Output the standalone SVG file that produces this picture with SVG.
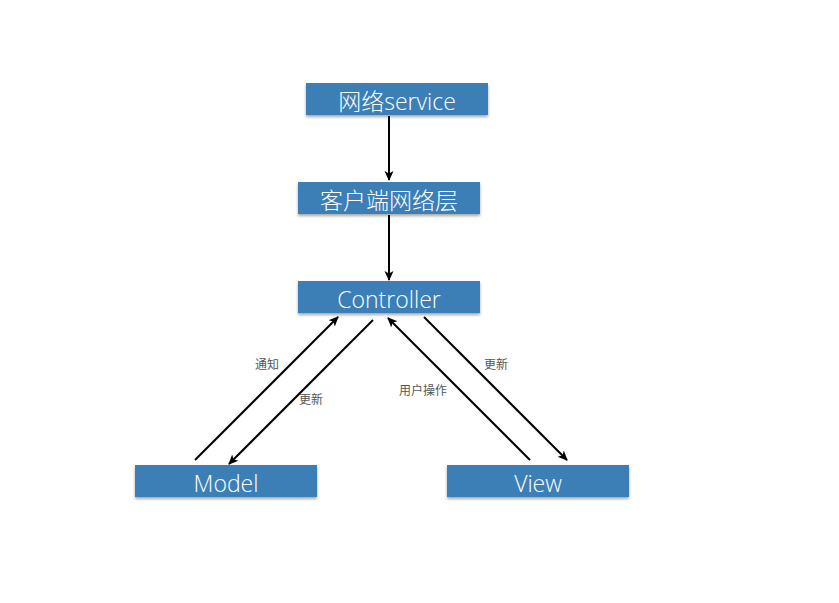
<svg xmlns="http://www.w3.org/2000/svg" width="839" height="603" viewBox="0 0 839 603">
<defs>
<filter id="sh" x="-10%" y="-20%" width="120%" height="160%">
<feDropShadow dx="0" dy="2" stdDeviation="1.5" flood-color="#000" flood-opacity="0.35"/>
</filter>
<marker id="ah" markerWidth="10" markerHeight="10" refX="9" refY="5" orient="auto" markerUnits="userSpaceOnUse">
<path d="M0,0.5 L10,5 L0,9.5 L2.5,5 Z" fill="#000"/>
</marker>
</defs>
<style>
.box{fill:#3a7fb6;filter:url(#sh)}
.t{fill:#fff;font-family:"Open Sans","Noto Sans CJK SC",sans-serif;font-weight:300;font-size:23px;text-anchor:middle}
.c{stroke:#000;stroke-width:2;fill:none;marker-end:url(#ah)}
.l{fill:#555;font-family:"Liberation Sans","Noto Sans CJK SC",sans-serif;font-size:12px;text-anchor:middle}
</style>
<rect width="839" height="603" fill="#fff"/>
<g id="connectors">
<line class="c" x1="389" y1="116" x2="389" y2="180"/>
<line class="c" x1="389" y1="215" x2="389" y2="280"/>
<line class="c" x1="195" y1="460" x2="338" y2="317"/>
<line class="c" x1="373" y1="320" x2="229" y2="464"/>
<line class="c" x1="530" y1="460" x2="388" y2="318"/>
<line class="c" x1="424" y1="317" x2="567" y2="460"/>
<text class="l" x="267" y="369">通知</text>
<text class="l" x="311" y="404">更新</text>
<text class="l" x="423" y="395">用户操作</text>
<text class="l" x="496" y="369">更新</text>
</g>
<g id="service"><rect class="box" x="306" y="83" width="182" height="32"/><text class="t" x="397" y="110">网络service</text></g>
<g id="client"><rect class="box" x="298" y="182" width="182" height="32"/><text class="t" x="389" y="209">客户端网络层</text></g>
<g id="controller"><rect class="box" x="298" y="281" width="182" height="32"/><text class="t" x="389" y="308">Controller</text></g>
<g id="model"><rect class="box" x="135" y="465" width="182" height="32"/><text class="t" x="226" y="492">Model</text></g>
<g id="view"><rect class="box" x="447" y="465" width="182" height="32"/><text class="t" x="538" y="492">View</text></g>
</svg>
